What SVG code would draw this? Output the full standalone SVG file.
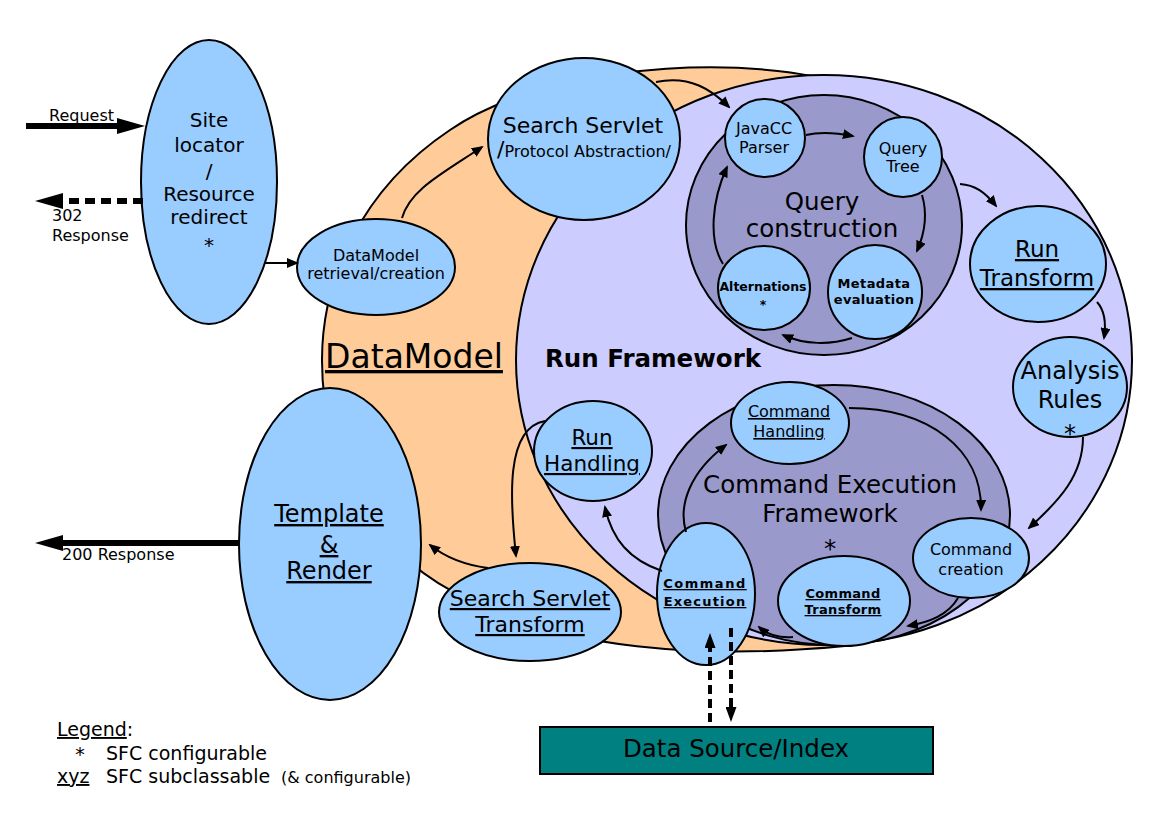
<svg xmlns="http://www.w3.org/2000/svg" width="1169" height="827" viewBox="0 0 1169 827">
<defs>
<style>
.t{font-family:"DejaVu Sans","Liberation Sans",sans-serif;fill:#000;text-anchor:middle}
.l{font-family:"DejaVu Sans","Liberation Sans",sans-serif;fill:#000}
.b{font-weight:bold}
.u{text-decoration:underline}
.n{fill:#99ccff;stroke:#000;stroke-width:2}
.c{fill:none;stroke:#000;stroke-width:2}
.big{fill:none;stroke:#000;stroke-width:6}
.bigd{fill:none;stroke:#000;stroke-width:6;stroke-dasharray:10 6}
.dash{fill:none;stroke:#000;stroke-width:4;stroke-dasharray:9 5}
</style>
<marker id="ah" viewBox="0 0 12 10" refX="10" refY="5" markerWidth="12" markerHeight="10" markerUnits="userSpaceOnUse" orient="auto"><path d="M0,0 L12,5 L0,10 Z" fill="#000"/></marker>
<marker id="AH" viewBox="0 0 28 16" refX="1" refY="8" markerWidth="28" markerHeight="16" markerUnits="userSpaceOnUse" orient="auto"><path d="M0,0 L28,8 L0,16 Z" fill="#000"/></marker>
<marker id="dh" viewBox="0 0 15 11" refX="1" refY="5.5" markerWidth="15" markerHeight="11" markerUnits="userSpaceOnUse" orient="auto"><path d="M0,0 L15,5.5 L0,11 Z" fill="#000"/></marker>
</defs>
<rect width="1169" height="827" fill="#fff"/>

<g id="datamodel">
<path d="M860,90 C780,55 560,55 450,130 C360,190 322,280 322,360 C322,470 380,560 470,600 C560,648 700,660 845,646 L860,90 Z" fill="#ffcc99" stroke="#000" stroke-width="2"/>
<text class="t u" x="414" y="368" font-size="33">DataModel</text>
</g>

<g id="run-framework">
<ellipse cx="824" cy="360" rx="308" ry="285" fill="#ccccff" stroke="#000" stroke-width="2"/>
<text class="t b" x="653" y="367" font-size="24.5">Run Framework</text>
</g>

<g id="query-construction">
<ellipse cx="824" cy="225" rx="138" ry="130" fill="#9999cc" stroke="#000" stroke-width="2"/>
<text class="t" x="822" y="210" font-size="24.5">Query</text>
<text class="t" x="822" y="237" font-size="24.5">construction</text>
</g>

<g id="command-execution-framework">
<ellipse cx="834" cy="515" rx="176" ry="130" fill="#9999cc" stroke="#000" stroke-width="2"/>
<text class="t" x="830" y="493" font-size="24.5">Command Execution</text>
<text class="t" x="830" y="522" font-size="24.5">Framework</text>
<text class="t" x="830" y="557" font-size="24.5">*</text>
</g>

<g id="site-locator">
<ellipse class="n" cx="209" cy="182" rx="68" ry="142"/>
<text class="t" x="209" y="127" font-size="20">Site</text>
<text class="t" x="209" y="152" font-size="20">locator</text>
<text class="t" x="209" y="178" font-size="20">/</text>
<text class="t" x="209" y="201" font-size="20">Resource</text>
<text class="t" x="209" y="224" font-size="20">redirect</text>
<text class="t" x="209" y="252" font-size="20">*</text>
</g>

<g id="search-servlet">
<ellipse class="n" cx="584" cy="139" rx="96" ry="81"/>
<text class="t" x="583" y="133" font-size="22">Search Servlet</text>
<text class="t" x="584" y="157"><tspan font-size="22">/</tspan><tspan font-size="16">Protocol Abstraction/</tspan></text>
</g>

<g id="datamodel-retrieval">
<ellipse class="n" cx="376" cy="267" rx="79" ry="48"/>
<text class="t" x="376" y="261" font-size="16">DataModel</text>
<text class="t" x="376" y="279" font-size="16">retrieval/creation</text>
</g>

<g id="javacc-parser">
<ellipse class="n" cx="765" cy="138" rx="40" ry="39"/>
<text class="t" x="764" y="134" font-size="16">JavaCC</text>
<text class="t" x="764" y="153" font-size="16">Parser</text>
</g>

<g id="query-tree">
<ellipse class="n" cx="903" cy="157" rx="39" ry="40"/>
<text class="t" x="903" y="154" font-size="16">Query</text>
<text class="t" x="903" y="172" font-size="16">Tree</text>
</g>

<g id="alternations">
<ellipse class="n" cx="764" cy="288" rx="46" ry="42"/>
<text class="t b" x="763" y="291" font-size="12.5">Alternations</text>
<text class="t b" x="763" y="309" font-size="12.5">*</text>
</g>

<g id="metadata-evaluation">
<ellipse class="n" cx="875" cy="292" rx="47" ry="47"/>
<text class="t b" x="874" y="288" font-size="13" letter-spacing="0.4">Metadata</text>
<text class="t b" x="874" y="304" font-size="13" letter-spacing="0.3">evaluation</text>
</g>

<g id="run-transform">
<ellipse class="n" cx="1038" cy="264" rx="68" ry="58"/>
<text class="t u" x="1037" y="257" font-size="23">Run</text>
<text class="t u" x="1037" y="286" font-size="23">Transform</text>
</g>

<g id="analysis-rules">
<ellipse class="n" cx="1070" cy="387" rx="57" ry="50"/>
<text class="t" x="1070" y="379" font-size="24">Analysis</text>
<text class="t" x="1070" y="408" font-size="24">Rules</text>
<text class="t" x="1070" y="442" font-size="24">*</text>
</g>

<g id="run-handling">
<ellipse class="n" cx="593" cy="451" rx="59" ry="50"/>
<text class="t u" x="592" y="445" font-size="21.5">Run</text>
<text class="t u" x="592" y="471" font-size="21.5">Handling</text>
</g>

<g id="command-handling">
<ellipse class="n" cx="790" cy="423" rx="59" ry="41"/>
<text class="t u" x="789" y="417" font-size="16">Command</text>
<text class="t u" x="789" y="437" font-size="16">Handling</text>
</g>

<g id="command-creation">
<ellipse class="n" cx="971" cy="558" rx="58" ry="40"/>
<text class="t" x="971" y="555" font-size="16">Command</text>
<text class="t" x="971" y="575" font-size="16">creation</text>
</g>

<g id="command-transform">
<ellipse class="n" cx="844" cy="601" rx="66" ry="45"/>
<text class="t b u" x="843" y="598" font-size="13" letter-spacing="0.3">Command</text>
<text class="t b u" x="843" y="614" font-size="13" letter-spacing="0.3">Transform</text>
</g>

<g id="command-execution">
<ellipse class="n" cx="706" cy="594" rx="49" ry="71"/>
<text class="t b u" x="705" y="588" font-size="13" letter-spacing="1.5">Command</text>
<text class="t b u" x="705" y="606" font-size="13" letter-spacing="1.2">Execution</text>
</g>

<g id="search-servlet-transform">
<ellipse class="n" cx="530" cy="612" rx="91" ry="49"/>
<text class="t u" x="530" y="606" font-size="22">Search Servlet</text>
<text class="t u" x="530" y="632" font-size="22">Transform</text>
</g>

<g id="template-render">
<ellipse class="n" cx="330" cy="544" rx="91" ry="156"/>
<text class="t u" x="329" y="522" font-size="24">Template</text>
<text class="t u" x="329" y="553" font-size="24">&amp;</text>
<text class="t u" x="329" y="579" font-size="24">Render</text>
</g>

<g id="data-source">
<rect x="540" y="727" width="393" height="47" fill="#008080" stroke="#000" stroke-width="2"/>
<text class="t" x="736" y="757" font-size="24.5">Data Source/Index</text>
</g>

<g id="connectors">
<path class="big" d="M26,126 L118,126" marker-end="url(#AH)"/>
<path class="bigd" d="M143,201 L62,201" marker-end="url(#AH)"/>
<path class="big" d="M240,543 L62,543" marker-end="url(#AH)"/>
<path class="c" d="M265,263 L297,263" marker-end="url(#ah)"/>
<path class="c" d="M402,218 C410,190 440,175 482,147" marker-end="url(#ah)"/>
<path class="c" d="M656,82 C690,75 712,90 729,107" marker-end="url(#ah)"/>
<path class="c" d="M806,135 C822,131 838,133 853,136" marker-end="url(#ah)"/>
<path class="c" d="M922,195 C928,215 924,235 917,251" marker-end="url(#ah)"/>
<path class="c" d="M852,338 C830,345 805,345 783,335" marker-end="url(#ah)"/>
<path class="c" d="M723,264 C708,240 712,200 727,167" marker-end="url(#ah)"/>
<path class="c" d="M960,184 C975,185 985,192 996,206" marker-end="url(#ah)"/>
<path class="c" d="M1097,302 C1106,312 1106,325 1104,338" marker-end="url(#ah)"/>
<path class="c" d="M1083,437 C1083,475 1060,500 1029,528" marker-end="url(#ah)"/>
<path class="c" d="M849,408 C930,408 982,450 981,510" marker-end="url(#ah)"/>
<path class="c" d="M958,598 C948,615 930,622 908,626" marker-end="url(#ah)"/>
<path class="c" d="M793,637 C780,638 768,635 759,627" marker-end="url(#ah)"/>
<path class="c" d="M686,532 C678,505 690,472 726,445" marker-end="url(#ah)"/>
<path class="c" d="M662,571 C630,560 612,540 605,507" marker-end="url(#ah)"/>
<path class="c" d="M545,421 C505,428 510,500 516,556" marker-end="url(#ah)"/>
<path class="c" d="M488,568 C465,565 445,557 430,545" marker-end="url(#ah)"/>
<path class="dash" d="M710,722 L710,647" marker-end="url(#dh)"/>
<path class="dash" d="M731,628 L731,708" marker-end="url(#dh)"/>
</g>

<g id="labels">
<text class="l" x="49" y="121" font-size="16">Request</text>
<text class="l" x="52" y="221" font-size="16">302</text>
<text class="l" x="52" y="241" font-size="16">Response</text>
<text class="l" x="62" y="560" font-size="16">200 Response</text>
</g>

<g id="legend">
<text class="l" x="57" y="736" font-size="19"><tspan class="u">Legend</tspan>:</text>
<text class="t" x="80" y="761" font-size="19">*</text>
<text class="l" x="106" y="760" font-size="19">SFC configurable</text>
<text class="l u" x="57" y="783" font-size="19">xyz</text>
<text class="l" x="106" y="783" font-size="19">SFC subclassable</text>
<text class="l" x="281" y="783" font-size="16">(&amp; configurable)</text>
</g>
</svg>
